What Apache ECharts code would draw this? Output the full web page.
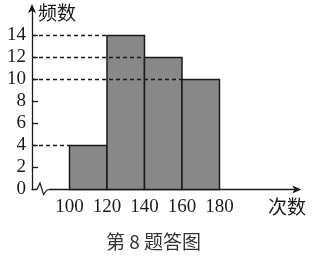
<!DOCTYPE html>
<html>
<head>
<meta charset="utf-8">
<script src="https://cdn.jsdelivr.net/npm/echarts@6/dist/echarts.min.js"></script>
<style>
html,body{margin:0;padding:0;background:#fff;}
#c{width:312px;height:260px;}
</style>
</head>
<body>
<div id="c"></div>
<script>
// Data
const binStarts = [100, 120, 140, 160];
const binEnds = [120, 140, 160, 180];
const frequencies = [4, 14, 12, 10];
const xTickLabels = [100, 120, 140, 160, 180];
const yTickLabels = [0, 2, 4, 6, 8, 10, 12, 14];
const yAxisName = '频数';
const xAxisName = '次数';
const caption = '第 8 题答图';

const X_MIN = 80, X_MAX = 221.5, Y_MIN = 0, Y_MAX = 16.5;
const numFont = '"Liberation Serif", "DejaVu Serif", serif';
const cjkFont = '"Noto Sans CJK SC", sans-serif';
const ink = '#1a1a1a';

const histData = binStarts.map((s, i) => [s, binEnds[i], frequencies[i]]);

const chart = echarts.init(document.getElementById('c'), null, {renderer: 'canvas'});
chart.setOption({
  animation: false,
  backgroundColor: '#fff',
  grid: {left: 32, right: 14.7, top: 8, bottom: 70.5, containLabel: false},
  xAxis: {
    type: 'value', min: X_MIN, max: X_MAX, interval: 20,
    splitLine: {show: false},
    axisLine: {show: true, lineStyle: {color: ink, width: 1.3}, symbol: ['none', 'arrow'], symbolSize: [6, 9], symbolOffset: [0, 4]},
    axisTick: {show: false},
    axisLabel: {
      customValues: xTickLabels,
      color: ink, fontFamily: numFont, fontSize: 19, margin: 8
    }
  },
  yAxis: {
    type: 'value', min: Y_MIN, max: Y_MAX, interval: 2,
    splitLine: {show: false},
    axisLine: {show: true, lineStyle: {color: ink, width: 1.3}, symbol: ['none', 'arrow'], symbolSize: [6, 9], symbolOffset: [0, 4]},
    axisTick: {show: true, inside: true, length: 6, customValues: [2, 4, 6, 8, 10, 12, 14], lineStyle: {color: ink, width: 1.3}},
    axisLabel: {
      customValues: yTickLabels,
      color: ink, fontFamily: numFont, fontSize: 19, margin: 6
    }
  },
  graphic: [
    {type: 'text', left: 38, top: 3, style: {text: yAxisName, font: '19px ' + cjkFont, fill: ink}},
    {type: 'text', left: 268, top: 197, style: {text: xAxisName, font: '19px ' + cjkFont, fill: ink}},
    {type: 'text', left: 106, top: 232, style: {text: caption, font: '19px ' + cjkFont, fill: '#333'}}
  ],
  series: [
    {
      type: 'custom',
      data: histData,
      z: 2,
      renderItem: function (params, api) {
        const p0 = api.coord([api.value(0), api.value(2)]);
        const p1 = api.coord([api.value(1), 0]);
        return {
          type: 'rect',
          shape: {x: p0[0], y: p0[1], width: p1[0] - p0[0], height: p1[1] - p0[1]},
          style: {fill: '#888888', stroke: ink, lineWidth: 1.5}
        };
      }
    },
    {
      type: 'custom',
      data: histData,
      z: 3,
      renderItem: function (params, api) {
        const a = api.coord([X_MIN, api.value(2)]);
        const b = api.coord([api.value(0), api.value(2)]);
        return {
          type: 'line',
          shape: {x1: a[0], y1: a[1], x2: b[0], y2: b[1]},
          style: {stroke: ink, lineWidth: 1.3, lineDash: [4, 3]}
        };
      }
    },
    {
      type: 'custom',
      data: [[X_MIN, 0]],
      z: 4,
      renderItem: function (params, api) {
        const o = api.coord([X_MIN, 0]);
        const x = o[0], y = o[1];
        return {
          type: 'group',
          children: [
            {type: 'rect', shape: {x: x + 5, y: y - 2, width: 12, height: 4}, style: {fill: '#fff'}},
            {type: 'polyline', shape: {points: [[x + 5, y], [x + 8, y - 6.5], [x + 11.5, y + 5], [x + 15, y + 0.5], [x + 18, y]]},
             style: {stroke: ink, lineWidth: 1.2, fill: null}}
          ]
        };
      }
    }
  ]
});
</script>
</body>
</html>
